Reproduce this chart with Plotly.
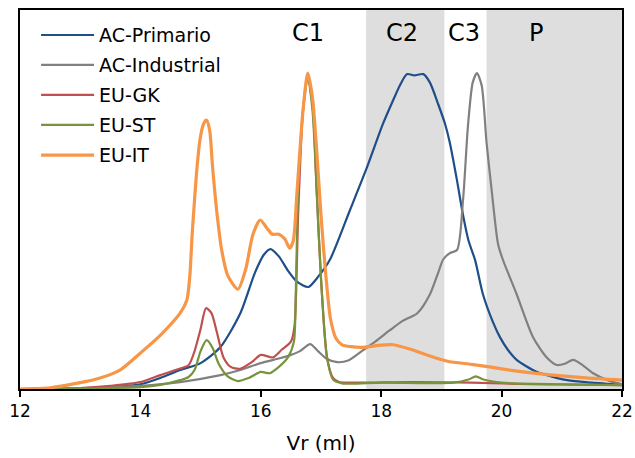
import plotly.graph_objects as go

# Elution profiles (normalised detector response) vs. retention volume
ac_primario_x = [12.0, 13.0, 13.5, 14.0, 14.33, 14.66, 15.0, 15.33, 15.66, 15.9, 16.05, 16.16, 16.3,
                 16.45, 16.6, 16.79, 16.95, 17.15, 17.48, 17.76, 18.03, 18.2, 18.32, 18.43, 18.55,
                 18.7, 18.81, 18.95, 19.06, 19.14, 19.25, 19.36, 19.45, 19.56, 19.69, 19.86, 19.97,
                 20.1, 20.25, 20.59, 21.09, 21.5, 22.0]
ac_primario_y = [0.0, 0.002, 0.006, 0.015, 0.035, 0.06, 0.082, 0.133, 0.24, 0.367, 0.425, 0.443, 0.42,
                 0.375, 0.34, 0.323, 0.355, 0.41, 0.566, 0.70, 0.84, 0.915, 0.965, 0.997, 0.993,
                 0.997, 0.97, 0.90, 0.84, 0.78, 0.67, 0.55, 0.47, 0.408, 0.30, 0.21, 0.165,
                 0.125, 0.092, 0.054, 0.028, 0.02, 0.013]

ac_industrial_x = [12.0, 13.0, 14.0, 14.66, 15.33, 15.66, 16.0, 16.33, 16.5, 16.65, 16.82, 16.95, 17.1,
                   17.27, 17.45, 17.7, 17.9, 18.15, 18.35, 18.6, 18.81, 18.95, 19.03, 19.14, 19.26,
                   19.36, 19.44, 19.52, 19.59, 19.67, 19.75, 19.84, 19.94, 20.02, 20.25, 20.52, 20.75,
                   20.92, 21.05, 21.19, 21.35, 21.52, 21.8, 22.0]
ac_industrial_y = [0.0, 0.003, 0.01, 0.022, 0.044, 0.06, 0.082, 0.098, 0.108, 0.12, 0.142, 0.12, 0.095,
                   0.085, 0.09, 0.123, 0.15, 0.187, 0.215, 0.24, 0.30, 0.37, 0.41, 0.43, 0.44,
                   0.60, 0.83, 0.97, 1.0, 0.96, 0.78, 0.62, 0.46, 0.41, 0.30, 0.165, 0.10,
                   0.076, 0.08, 0.092, 0.075, 0.05, 0.025, 0.015]

eu_gk_x = [12.0, 13.0, 13.5, 14.0, 14.33, 14.66, 14.8, 14.9, 15.0, 15.09, 15.18, 15.27, 15.38, 15.5,
           15.65, 15.85, 16.0, 16.2, 16.35, 16.5, 16.56, 16.62, 16.7, 16.78, 16.86, 16.93, 17.0,
           17.1, 17.2, 17.3, 17.6, 18.5, 19.5, 20.5, 22.0]
eu_gk_y = [0.0, 0.003, 0.01, 0.022, 0.044, 0.065, 0.075, 0.12, 0.19, 0.256, 0.24, 0.18, 0.10, 0.07,
           0.064, 0.085, 0.108, 0.10, 0.125, 0.15, 0.2, 0.55, 0.88, 0.99, 0.9, 0.62, 0.35,
           0.10, 0.035, 0.022, 0.02, 0.022, 0.02, 0.015, 0.012]

eu_st_x = [12.0, 13.0, 14.0, 14.33, 14.66, 14.8, 14.9, 15.0, 15.1, 15.2, 15.3, 15.45, 15.62, 15.8,
           16.0, 16.15, 16.3, 16.45, 16.55, 16.58, 16.62, 16.7, 16.78, 16.86, 16.93, 17.0, 17.1,
           17.2, 17.35, 18.0, 19.2, 19.45, 19.57, 19.7, 20.0, 21.0, 22.0]
eu_st_y = [0.0, 0.002, 0.006, 0.013, 0.028, 0.038, 0.06, 0.12, 0.155, 0.13, 0.08, 0.04, 0.025, 0.035,
           0.054, 0.05, 0.07, 0.10, 0.15, 0.30, 0.62, 0.88, 0.99, 0.88, 0.62, 0.35, 0.10,
           0.03, 0.018, 0.02, 0.02, 0.03, 0.04, 0.03, 0.02, 0.015, 0.012]

eu_it_x = [12.0, 12.5, 13.0, 13.33, 13.66, 14.0, 14.33, 14.66, 14.77, 14.82, 14.86, 14.9, 14.94, 14.99,
           15.05, 15.1, 15.15, 15.2, 15.27, 15.35, 15.45, 15.62, 15.75, 15.87, 15.99, 16.1, 16.19,
           16.3, 16.4, 16.48, 16.54, 16.6, 16.7, 16.78, 16.86, 16.93, 17.0, 17.08, 17.16, 17.25,
           17.35, 17.5, 17.7, 18.0, 18.2, 18.5, 18.8, 19.1, 19.5, 19.8, 20.2, 20.8, 21.4, 22.0]
eu_it_y = [0.0, 0.004, 0.02, 0.035, 0.06, 0.114, 0.17, 0.24, 0.28, 0.355, 0.49, 0.60, 0.70, 0.79,
           0.84, 0.851, 0.82, 0.70, 0.56, 0.44, 0.36, 0.316, 0.38, 0.49, 0.535, 0.51, 0.49,
           0.49, 0.475, 0.446, 0.47, 0.62, 0.88, 1.0, 0.92, 0.75, 0.55, 0.36, 0.22, 0.16,
           0.14, 0.134, 0.132, 0.139, 0.14, 0.125, 0.105, 0.088, 0.078, 0.07, 0.058, 0.045, 0.035, 0.028]

series_names = ["AC-Primario", "AC-Industrial", "EU-GK", "EU-ST", "EU-IT"]
series_x = [ac_primario_x, ac_industrial_x, eu_gk_x, eu_st_x, eu_it_x]
series_y = [ac_primario_y, ac_industrial_y, eu_gk_y, eu_st_y, eu_it_y]
series_colors = ["#1F4E89", "#808080", "#C0504D", "#77933C", "#F79646"]
series_widths = [2.2, 2.2, 2.2, 2.2, 3.2]

# Fraction windows (shaded) and fraction labels
shaded_ranges = [(17.75, 19.05), (19.75, 22.0)]
fraction_labels = ["C1", "C2", "C3", "P"]
fraction_label_x = [16.78, 18.34, 19.38, 20.57]

x_ticks = [12, 14, 16, 18, 20, 22]

fig = go.Figure()

for name, xs, ys, col, w in zip(series_names, series_x, series_y, series_colors, series_widths):
    fig.add_trace(go.Scatter(
        x=xs, y=ys, mode="lines", name=name, showlegend=False,
        line=dict(color=col, width=w, shape="spline", smoothing=0.7),
    ))

for x0, x1 in shaded_ranges:
    fig.add_shape(type="rect", xref="x", yref="y domain", x0=x0, x1=x1, y0=0, y1=1,
                  fillcolor="#DEDEDE", line=dict(width=0), layer="below")

for lab, lx in zip(fraction_labels, fraction_label_x):
    fig.add_annotation(x=lx, xref="x", y=0.939, yref="paper", text=lab, showarrow=False,
                       font=dict(size=24, color="#000000"), xanchor="center", yanchor="middle")

# Legend drawn as line samples with labels in the upper-left corner
legend_rows = [0.934, 0.855, 0.776, 0.697, 0.617]
for name, col, w, ry in zip(series_names, series_colors, series_widths, legend_rows):
    fig.add_shape(type="line", xref="paper", yref="paper", x0=0.035, x1=0.123, y0=ry, y1=ry,
                  line=dict(color=col, width=w))
    fig.add_annotation(x=0.128, y=ry, xref="paper", yref="paper", text=name, showarrow=False,
                       xanchor="left", yanchor="middle", font=dict(size=19, color="#000000"))

fig.update_layout(
    width=635, height=458,
    margin=dict(l=20, r=13, t=10, b=69, autoexpand=False),
    paper_bgcolor="white", plot_bgcolor="white",
    font=dict(family="DejaVu Sans, Verdana, sans-serif", color="#000000"),
    showlegend=False,
)
fig.update_xaxes(
    range=[12, 22], tickvals=x_ticks, ticktext=[str(t) for t in x_ticks],
    ticks="outside", ticklen=6, tickwidth=1.5, tickcolor="#000000",
    showline=True, linecolor="#000000", linewidth=2, mirror=True, automargin=False,
    showgrid=False, zeroline=False, tickfont=dict(size=17),
    title=dict(text="Vr (ml)", font=dict(size=20), standoff=16),
)
fig.update_yaxes(
    range=[0, 1.2], showticklabels=False, ticks="", automargin=False,
    showline=True, linecolor="#000000", linewidth=2, mirror=True,
    showgrid=False, zeroline=False,
)

fig.write_html("out.html")
